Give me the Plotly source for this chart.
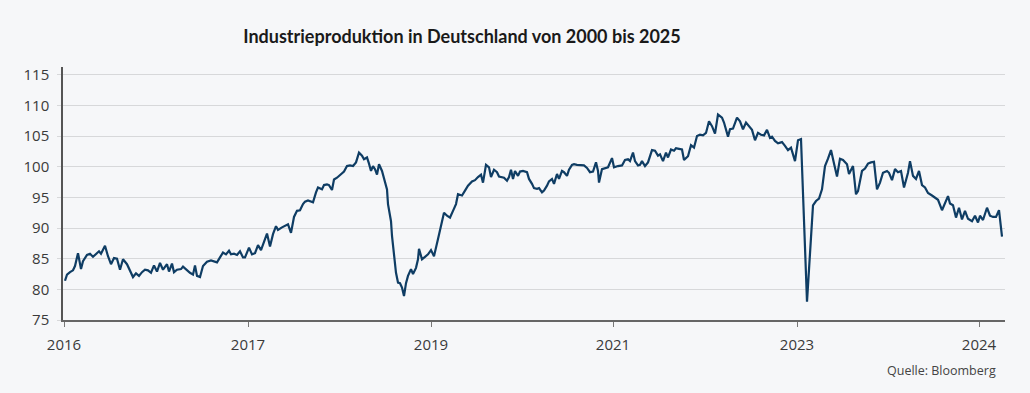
import plotly.graph_objects as go

# Beobachtungsindex (Periode) und Indexwerte der Industrieproduktion
periode = [
    1, 3, 6, 9, 11, 14, 17, 19, 23, 26, 29, 32, 35, 37, 41, 44, 47, 50, 53, 56,
    59, 63, 66, 69, 72, 75, 78, 81, 84, 87, 90, 93, 96, 99, 103, 105, 108, 110, 113, 117,
    119, 123, 126, 129, 131, 133, 136, 139, 143, 147, 150, 153, 156, 159, 162, 165, 167, 170, 173, 176,
    179, 181, 185, 188, 191, 194, 197, 200, 203, 206, 209, 212, 214, 218, 221, 224, 227, 230, 233, 236,
    239, 241, 244, 247, 249, 252, 254, 258, 260, 263, 265, 268, 270, 273, 275, 278, 280, 283, 286, 289,
    292, 295, 298, 300, 303, 305, 307, 309, 311, 313, 315, 318, 320, 323, 324, 327, 328, 330, 332, 334,
    336, 338, 340, 342, 344, 347, 349, 352, 354, 355, 358, 361, 364, 367, 370, 374, 378, 380, 383, 386,
    389, 392, 394, 398, 401, 404, 408, 411, 414, 417, 419, 422, 425, 427, 430, 433, 435, 438, 440, 443,
    445, 447, 449, 451, 454, 456, 459, 463, 465, 468, 470, 473, 475, 478, 480, 483, 485, 488, 490, 493,
    495, 498, 500, 503, 505, 508, 510, 513, 517, 520, 523, 526, 529, 532, 534, 535, 538, 541, 544, 548,
    550, 554, 558, 561, 564, 566, 569, 571, 574, 576, 578, 581, 584, 588, 591, 594, 596, 599, 602, 604,
    607, 610, 612, 615, 618, 620, 624, 627, 630, 633, 636, 639, 642, 645, 648, 651, 654, 658, 660, 664,
    666, 669, 673, 676, 679, 682, 685, 688, 691, 694, 697, 700, 703, 706, 708, 711, 714, 718, 721, 724,
    727, 731, 734, 737, 743, 749, 752, 755, 758, 761, 764, 767, 770, 773, 776, 779, 783, 785, 789, 792,
    794, 798, 801, 804, 807, 810, 813, 816, 819, 823, 825, 828, 831, 834, 837, 840, 844, 846, 849, 852,
    855, 858, 861, 864, 868, 871, 874, 878, 880, 884, 886, 889, 892, 895, 898, 901, 904, 908, 911, 914,
    916, 919, 923, 926, 929, 932, 935, 938,
]

produktion = [
    81.4, 82.4, 82.8, 83.1, 83.8, 85.9, 83.3, 84.6, 85.6, 85.8, 85.3, 85.7, 86.2, 85.8, 87.1, 85.4, 84.1, 85.1, 85.0, 83.2,
    84.9, 84.1, 82.9, 82.0, 82.6, 82.2, 82.8, 83.2, 83.1, 82.7, 83.9, 82.9, 84.3, 83.2, 84.1, 82.9, 84.2, 82.8, 83.2, 83.3,
    83.7, 83.1, 82.7, 82.4, 83.9, 82.2, 82.0, 83.8, 84.5, 84.7, 84.6, 84.4, 85.2, 86.0, 85.7, 86.3, 85.7, 85.8, 85.6, 86.2,
    85.2, 85.2, 86.8, 85.7, 85.9, 87.2, 86.4, 87.9, 89.1, 87.0, 89.0, 90.3, 89.7, 90.1, 90.3, 90.6, 89.2, 91.8, 92.8, 92.9,
    93.9, 94.3, 94.5, 94.3, 94.2, 95.8, 96.6, 96.3, 97.0, 97.1, 97.0, 96.2, 97.9, 98.2, 98.5, 99.0, 99.2, 100.1, 100.2, 100.1,
    100.7, 102.3, 101.8, 101.2, 101.5, 100.5, 99.3, 100.1, 99.6, 98.7, 100.4, 99.3, 97.9, 96.3, 93.9, 91.1, 88.7, 85.4, 82.7, 81.1,
    81.0, 80.3, 78.9, 81.0, 82.2, 83.3, 82.5, 83.5, 84.9, 86.6, 84.9, 85.3, 85.7, 86.4, 85.4, 88.2, 90.9, 92.5, 92.0, 91.7,
    92.8, 93.9, 95.5, 95.3, 96.1, 96.9, 97.6, 97.8, 98.3, 98.7, 97.4, 100.3, 99.9, 98.3, 99.5, 99.1, 98.4, 98.3, 98.2, 97.7,
    98.3, 99.5, 98.0, 99.3, 98.5, 99.2, 99.3, 99.1, 98.0, 97.2, 96.5, 96.4, 96.5, 95.8, 96.1, 96.9, 97.6, 98.0, 97.2, 98.8,
    98.0, 99.3, 99.1, 98.5, 99.5, 100.3, 100.4, 100.3, 100.3, 100.2, 99.8, 99.1, 99.2, 100.7, 99.3, 97.4, 99.6, 99.8, 99.9, 101.4,
    99.9, 100.1, 100.2, 101.1, 101.2, 100.9, 102.3, 100.9, 100.2, 100.3, 100.9, 100.1, 100.7, 102.7, 102.6, 101.8, 102.0, 100.9, 102.3, 101.5,
    102.8, 102.6, 103.0, 102.9, 102.8, 101.1, 101.7, 103.5, 103.1, 105.0, 105.2, 105.1, 105.5, 107.4, 106.6, 105.4, 108.5, 108.0, 107.2, 104.9,
    106.1, 106.2, 108.0, 107.4, 106.1, 107.2, 106.6, 106.0, 104.3, 105.5, 105.2, 105.1, 106.0, 104.7, 104.9, 104.2, 103.8, 104.0, 103.4, 102.7,
    103.1, 100.9, 104.3, 104.5, 78.0, 93.7, 94.4, 94.8, 96.3, 100.1, 101.3, 102.7, 100.5, 98.4, 101.3, 101.1, 100.4, 98.8, 100.1, 95.5,
    96.0, 99.3, 99.7, 100.5, 100.7, 100.8, 96.3, 97.4, 99.0, 99.3, 99.0, 97.8, 99.6, 99.1, 99.3, 96.6, 99.0, 100.9, 98.5, 98.0,
    99.3, 97.0, 96.6, 95.7, 95.3, 94.9, 94.6, 92.9, 93.7, 95.2, 94.0, 93.7, 91.7, 93.3, 91.4, 92.8, 91.5, 91.1, 92.0, 90.9,
    92.0, 91.3, 93.3, 92.0, 91.8, 91.8, 92.9, 88.6,
]

tick_pos = [0, 184, 367, 549, 733, 915]
tick_labels = ["2016", "2017", "2019", "2021", "2023", "2024"]
y_ticks = [75, 80, 85, 90, 95, 100, 105, 110, 115]

title_text = "Industrieproduktion in Deutschland von 2000 bis 2025"
source_text = "Quelle: Bloomberg"

BG = "#f6f7f9"
LINE = "#0f3d64"
GRID = "#d7d8da"

fig = go.Figure()
fig.add_trace(go.Scatter(
    x=periode, y=produktion, mode="lines",
    line=dict(color=LINE, width=2.2),
    hoverinfo="skip", showlegend=False,
))

fig.update_layout(
    width=1030, height=393,
    paper_bgcolor=BG, plot_bgcolor=BG,
    margin=dict(l=63, r=25, t=67, b=73),
    font=dict(family="Open Sans", size=15, color="#3a3a3a"),
    title=dict(
        text=title_text, x=462 / 1030, xref="container", xanchor="center",
        y=1 - 37 / 393, yref="container", yanchor="middle",
        font=dict(family="Lato", size=18, color="#1a1a1a", weight=700),
    ),
    annotations=[dict(
        text=source_text, xref="paper", yref="paper",
        x=(998 - 63) / 942, y=(320 - 370) / 253, xanchor="right", yanchor="middle",
        showarrow=False, font=dict(family="Open Sans", size=12.5, color="#444444"),
    )],
)

fig.update_xaxes(
    range=[-1, 941], tickmode="array", tickvals=tick_pos, ticktext=tick_labels,
    showgrid=False, zeroline=False, showline=True, linecolor="#666666", linewidth=1.5,
    ticks="outside", ticklen=5, tickcolor="#777777", tickwidth=1,
    tickfont=dict(size=15, color="#3a3a3a"), ticklabelstandoff=5, fixedrange=True,
)
fig.update_yaxes(
    range=[75, 116.25], tickmode="array", tickvals=y_ticks,
    showgrid=True, gridcolor=GRID, gridwidth=1, zeroline=False,
    showline=True, linecolor="#555555", linewidth=1.5,
    ticks="outside", ticklen=4, tickcolor=GRID, tickwidth=1,
    tickfont=dict(size=15, color="#3a3a3a"), ticklabelstandoff=5, fixedrange=True,
)

fig.write_html(
    "out.html",
    config={"displayModeBar": False},
    post_script="document.body.style.margin='0';document.body.style.background='" + BG + "';",
)
